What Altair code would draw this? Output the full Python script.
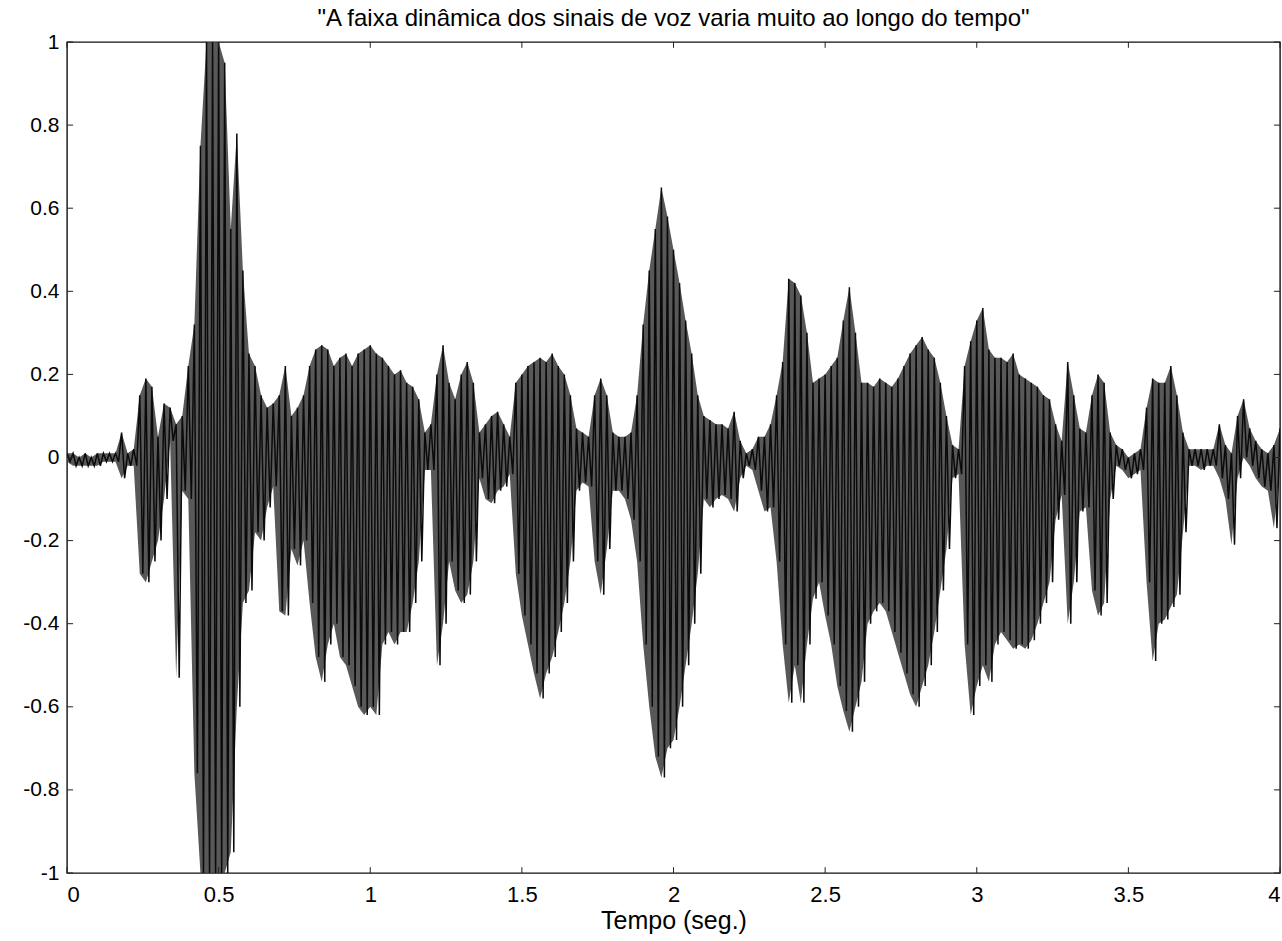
import altair as alt
import pandas as pd

# ---- data (envelope of the speech signal, every 0.02 s) ----
TIME = [round(i * 0.02, 2) for i in range(201)]

UPPER = [
    0.01, 0.01, 0.00, 0.01, 0.00, 0.01, 0.01, 0.01, 0.01, 0.06,   # 0.00-0.18
    0.01, 0.02, 0.15, 0.19, 0.17, 0.05, 0.13, 0.12, 0.08, 0.10,   # 0.20-0.38
    0.22, 0.32, 0.75, 1.00, 1.00, 1.00, 0.95, 0.55, 0.78, 0.45,   # 0.40-0.58
    0.25, 0.22, 0.15, 0.12, 0.13, 0.15, 0.22, 0.10, 0.12, 0.15,   # 0.60-0.78
    0.22, 0.26, 0.27, 0.26, 0.22, 0.24, 0.25, 0.22, 0.25, 0.26,   # 0.80-0.98
    0.27, 0.25, 0.24, 0.22, 0.20, 0.21, 0.18, 0.17, 0.14, 0.06,   # 1.00-1.18
    0.08, 0.20, 0.27, 0.18, 0.14, 0.20, 0.23, 0.18, 0.06, 0.08,   # 1.20-1.38
    0.10, 0.11, 0.08, 0.05, 0.18, 0.20, 0.22, 0.23, 0.24, 0.23,   # 1.40-1.58
    0.25, 0.22, 0.20, 0.15, 0.07, 0.06, 0.05, 0.15, 0.19, 0.15,   # 1.60-1.78
    0.06, 0.05, 0.05, 0.06, 0.15, 0.32, 0.45, 0.55, 0.65, 0.58,   # 1.80-1.98
    0.50, 0.42, 0.33, 0.25, 0.15, 0.10, 0.09, 0.08, 0.08, 0.07,   # 2.00-2.18
    0.11, 0.04, 0.01, 0.02, 0.05, 0.05, 0.08, 0.15, 0.23, 0.43,   # 2.20-2.38
    0.42, 0.39, 0.30, 0.18, 0.19, 0.20, 0.22, 0.24, 0.33, 0.41,   # 2.40-2.58
    0.30, 0.18, 0.18, 0.17, 0.19, 0.18, 0.17, 0.19, 0.22, 0.25,   # 2.60-2.78
    0.27, 0.29, 0.26, 0.24, 0.18, 0.10, 0.03, 0.02, 0.22, 0.28,   # 2.80-2.98
    0.33, 0.36, 0.26, 0.24, 0.24, 0.23, 0.25, 0.20, 0.19, 0.18,   # 3.00-3.18
    0.17, 0.15, 0.14, 0.08, 0.04, 0.23, 0.15, 0.07, 0.06, 0.15,   # 3.20-3.38
    0.20, 0.18, 0.06, 0.03, 0.02, 0.00, 0.01, 0.02, 0.12, 0.19,   # 3.40-3.58
    0.18, 0.18, 0.22, 0.15, 0.06, 0.02, 0.02, 0.02, 0.02, 0.02,   # 3.60-3.78
    0.08, 0.03, 0.01, 0.10, 0.14, 0.07, 0.04, 0.02, 0.01, 0.03,   # 3.80-3.98
    0.07,                                                         # 4.00
]

LOWER = [
    -0.01, -0.02, -0.02, -0.02, -0.02, -0.02, -0.01, -0.01, -0.01, -0.05,
    -0.02, -0.02, -0.28, -0.30, -0.25, -0.20, -0.10, 0.04, -0.53, -0.08,
    -0.10, -0.76, -1.00, -1.00, -1.00, -1.00, -1.00, -0.95, -0.60, -0.35,
    -0.32, -0.18, -0.20, -0.12, -0.07, -0.37, -0.38, -0.22, -0.26, -0.20,
    -0.35, -0.48, -0.54, -0.45, -0.40, -0.48, -0.50, -0.55, -0.60, -0.62,
    -0.60, -0.62, -0.45, -0.42, -0.45, -0.42, -0.42, -0.35, -0.25, -0.03,
    -0.03, -0.50, -0.40, -0.25, -0.32, -0.35, -0.33, -0.25, -0.05, -0.10,
    -0.11, -0.08, -0.07, -0.04, -0.28, -0.38, -0.45, -0.52, -0.58, -0.52,
    -0.48, -0.42, -0.35, -0.25, -0.08, -0.06, -0.07, -0.25, -0.33, -0.22,
    -0.08, -0.08, -0.10, -0.15, -0.25, -0.45, -0.60, -0.72, -0.77, -0.70,
    -0.68, -0.60, -0.50, -0.40, -0.28, -0.10, -0.12, -0.10, -0.09, -0.10,
    -0.13, -0.05, -0.02, -0.03, -0.08, -0.13, -0.12, -0.25, -0.45, -0.59,
    -0.50, -0.59, -0.45, -0.34, -0.30, -0.38, -0.45, -0.55, -0.61, -0.66,
    -0.60, -0.54, -0.40, -0.37, -0.35, -0.37, -0.42, -0.47, -0.52, -0.57,
    -0.60, -0.55, -0.50, -0.42, -0.32, -0.22, -0.05, -0.04, -0.45, -0.62,
    -0.55, -0.50, -0.54, -0.45, -0.42, -0.44, -0.46, -0.45, -0.46, -0.44,
    -0.40, -0.35, -0.30, -0.15, -0.09, -0.40, -0.30, -0.13, -0.12, -0.32,
    -0.38, -0.35, -0.10, -0.02, -0.03, -0.05, -0.04, -0.03, -0.30, -0.49,
    -0.40, -0.39, -0.36, -0.33, -0.18, -0.02, -0.02, -0.03, -0.02, -0.02,
    -0.05, -0.10, -0.21, -0.05, 0.00, -0.02, -0.05, -0.07, -0.08, -0.17,
    -0.02,
]

X_TICKS = [0, 0.5, 1, 1.5, 2, 2.5, 3, 3.5, 4]
Y_TICKS = [-1, -0.8, -0.6, -0.4, -0.2, 0, 0.2, 0.4, 0.6, 0.8, 1]
TITLE = '"A faixa dinâmica dos sinais de voz varia muito ao longo do tempo"'
X_LABEL = "Tempo (seg.)"

# ---- build tables ----
rows = []
for i, (t, hi, lo) in enumerate(zip(TIME, UPPER, LOWER)):
    rows.append({"t": t, "v": hi, "o": 2 * i})
    rows.append({"t": round(t + 0.01, 3), "v": lo, "o": 2 * i + 1})
wave = pd.DataFrame(rows)

band = pd.DataFrame({"t": TIME, "v": LOWER, "v2": UPPER})

xt_bottom = pd.DataFrame({"t": X_TICKS, "t2": X_TICKS, "v": [-1] * len(X_TICKS), "v2": [-0.986] * len(X_TICKS)})
xt_top = pd.DataFrame({"t": X_TICKS, "t2": X_TICKS, "v": [1] * len(X_TICKS), "v2": [0.986] * len(X_TICKS)})
yt_left = pd.DataFrame({"t": [0] * len(Y_TICKS), "t2": [0.02] * len(Y_TICKS), "v": Y_TICKS, "v2": Y_TICKS})
yt_right = pd.DataFrame({"t": [4] * len(Y_TICKS), "t2": [3.98] * len(Y_TICKS), "v": Y_TICKS, "v2": Y_TICKS})
ticks = pd.concat([xt_bottom, xt_top, yt_left, yt_right], ignore_index=True)

FONT = "Liberation Sans"

x_enc = alt.X(
    "t:Q",
    scale=alt.Scale(domain=[0, 4], nice=False, zero=False),
    axis=alt.Axis(
        values=X_TICKS, title=X_LABEL, ticks=False, domain=False, grid=False,
        labelExpr="toString(datum.value)", labelFontSize=22, labelPadding=11,
        labelFont=FONT, labelColor="#000", titleFont=FONT, titleFontSize=25,
        titleFontWeight="normal", titleColor="#000", titlePadding=3,
    ),
)
y_enc = alt.Y(
    "v:Q",
    scale=alt.Scale(domain=[-1, 1], nice=False, zero=False),
    axis=alt.Axis(
        values=Y_TICKS, title=None, ticks=False, domain=False, grid=False,
        labelExpr="toString(round(datum.value * 10) / 10)", labelFontSize=21,
        labelPadding=8, labelFont=FONT, labelColor="#000",
    ),
)

band_layer = alt.Chart(band).mark_area(
    color="#464646", opacity=0.9, clip=True, interpolate="linear"
).encode(x=x_enc, y=y_enc, y2="v2:Q")

wave_layer = alt.Chart(wave).mark_line(
    color="#0a0a0a", strokeWidth=1.5, clip=True, interpolate="linear"
).encode(x=x_enc, y=y_enc, order="o:Q")

tick_layer = alt.Chart(ticks).mark_rule(color="#222", strokeWidth=1).encode(
    x=x_enc, x2="t2:Q", y=y_enc, y2="v2:Q"
)

chart = (
    alt.layer(band_layer, wave_layer, tick_layer)
    .properties(
        width=1213,
        height=831,
        padding={"left": 67, "top": 42, "right": 2, "bottom": 68},
        autosize="none",
        background="white",
        title=alt.TitleParams(
            TITLE, font=FONT, fontSize=24, fontWeight="normal", color="#000",
            anchor="middle", offset=0,
        ),
    )
    .configure_view(stroke="#111", strokeWidth=1.4)
)

chart.save("out.html", embed_options={"renderer": "svg", "actions": False})
